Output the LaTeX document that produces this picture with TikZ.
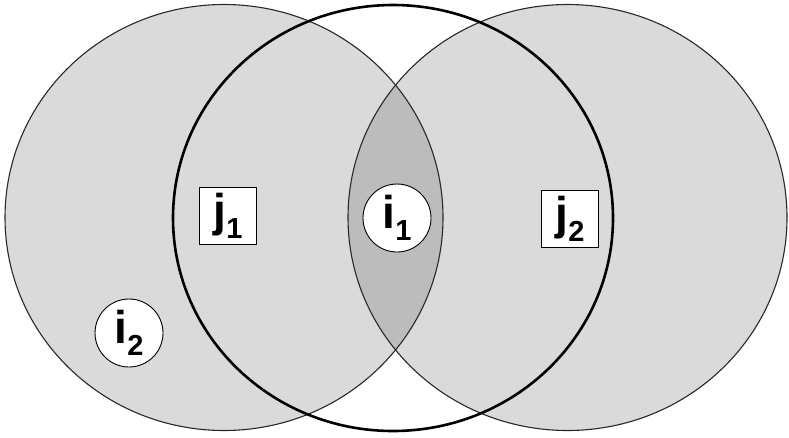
\documentclass[tikz,border=0pt]{standalone}
\usepackage{fontspec}
\setmainfont{Liberation Sans}
\definecolor{lightfill}{RGB}{218,218,218}
\definecolor{lensfill}{RGB}{188,188,188}
\definecolor{thinline}{RGB}{40,40,40}
\newcommand\lbltxt[2]{\fontsize{46}{46}\selectfont\bfseries #1\raisebox{-12pt}{\fontsize{29}{29}\selectfont #2}}
\begin{document}
\begin{tikzpicture}[x=1pt,y=-1pt,
  setline/.style={draw=thinline,line width=1.1pt},
  midline/.style={draw=black,line width=2.6pt},
  boxlabel/.style={draw=black,line width=0.9pt,fill=white,inner sep=0pt,minimum width=57pt,minimum height=57pt},
  roundlabel/.style={circle,draw=black,line width=0.9pt,fill=white,inner sep=0pt,minimum size=68pt}]
\useasboundingbox (0,0) rectangle (789,437);
% fills
\fill[lightfill] (224,217.5) ellipse [x radius=219, y radius=213];
\fill[lightfill] (567.5,217.5) ellipse [x radius=219.5, y radius=213];
\begin{scope}
  \clip (224,217.5) ellipse [x radius=219, y radius=213];
  \fill[lensfill] (567.5,217.5) ellipse [x radius=219.5, y radius=213];
\end{scope}
% outlines
\draw[setline] (224,217.5) ellipse [x radius=219, y radius=213];
\draw[setline] (567.5,217.5) ellipse [x radius=219.5, y radius=213];
\draw[midline] (393,218) ellipse [x radius=220, y radius=213];
% labels
\node[boxlabel] (j1) at (228,216) {\lbltxt{j}{1}};
\node[boxlabel] (j2) at (570,218.5) {\lbltxt{j}{2}};
\node[roundlabel] (i1) at (397,218) {\lbltxt{i}{1}};
\node[roundlabel] (i2) at (129,333) {\lbltxt{i}{2}};
\end{tikzpicture}
\end{document}
